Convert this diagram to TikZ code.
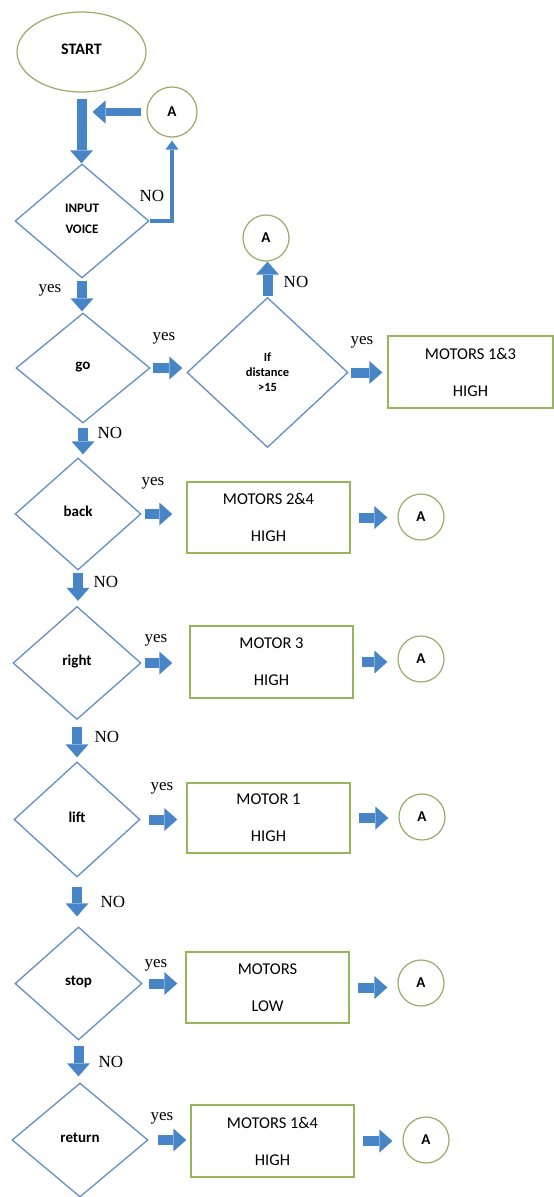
\documentclass[tikz,border=0pt]{standalone}
\usepackage{fontspec}
\setmainfont{Liberation Serif}
\newfontfamily\calibri{Carlito}
\usetikzlibrary{positioning, shapes.geometric, arrows.meta}
\definecolor{decisionColor}{RGB}{98,142,200}
\definecolor{arrowColor}{RGB}{72,133,199}
\definecolor{boxColor}{RGB}{150,182,90}
\definecolor{circleColor}{RGB}{150,172,105}
\tikzstyle{flowchart} = [x = 1pt, y = -1pt]
\tikzstyle{terminalStyle} = [ellipse, draw=circleColor, line width=1.2pt, minimum width=129pt, minimum height=80pt, inner sep=0pt, font=\calibri\bfseries\fontsize{16}{18}\selectfont]
\tikzstyle{decisionStyle} = [diamond, draw=decisionColor, line width=1.3pt, inner sep=0pt, align=center, font=\calibri\bfseries\fontsize{15}{18}\selectfont]
\tikzstyle{actionStyle} = [rectangle, draw=boxColor, line width=1.4pt, minimum width=163pt, minimum height=71pt, inner sep=0pt, align=center, font=\calibri\fontsize{16.5}{37}\selectfont]
\tikzstyle{connectorStyle} = [circle, draw=circleColor, line width=1.2pt, minimum size=46pt, inner sep=0pt, font=\calibri\bfseries\fontsize{15}{18}\selectfont]
\tikzstyle{flowArrow} = [draw=arrowColor, line width=10pt, -{Triangle[length=13pt, width=23pt, line width=0pt]}]
\tikzstyle{thinArrow} = [draw=arrowColor, line width=3.5pt, -{Triangle[length=9pt, width=13pt, line width=0pt]}]
\tikzstyle{answerText} = [inner sep=0pt, font=\fontsize{17}{18}\selectfont]
\newcommand{\lift}[1]{\raisebox{5pt}{#1}}

\begin{document}
\begin{tikzpicture}[flowchart]
  \useasboundingbox (0,0) rectangle (554,1197);

  % start, input and the return point
  \node [terminalStyle] (start) at (81.5,52) {\lift{START}};
  \node [connectorStyle, minimum size=50pt] (aTop) at (172,112) {A};
  \node [decisionStyle, minimum width=134pt, minimum height=114pt, font=\calibri\bfseries\fontsize{13}{21}\selectfont] (inputDecision) at (82,221) {\lift{INPUT}\\\lift{VOICE}};

  % decisions
  \node [decisionStyle, minimum width=134pt, minimum height=110pt] (goDecision) at (83,368) {\lift{go}};
  \node [decisionStyle, minimum width=161pt, minimum height=150pt, font=\calibri\bfseries\fontsize{12.5}{15}\selectfont] (distanceDecision) at (267.5,372.5) {If\\distance\\>15};
  \node [decisionStyle, minimum width=126pt, minimum height=112pt] (backDecision) at (78,514) {\lift{back}};
  \node [decisionStyle, minimum width=128pt, minimum height=113pt] (rightDecision) at (77,663) {\lift{right}};
  \node [decisionStyle, minimum width=126pt, minimum height=115pt] (liftDecision) at (77,819.5) {\lift{lift}};
  \node [decisionStyle, minimum width=127pt, minimum height=113pt] (stopDecision) at (78.5,983.5) {\lift{stop}};
  \node [decisionStyle, minimum width=136pt, minimum height=114pt] (returnDecision) at (80,1140) {\lift{return}};

  % actions
  \node [actionStyle, minimum width=165pt, minimum height=72pt] (motorsOneThree) at (470.5,372) {MOTORS 1\&3\\HIGH};
  \node [actionStyle] (motorsTwoFour) at (268.5,517.5) {MOTORS 2\&4\\HIGH};
  \node [actionStyle, minimum height=72pt] (motorThree) at (271.5,662) {MOTOR 3\\HIGH};
  \node [actionStyle, minimum height=70pt] (motorOne) at (268.5,818) {MOTOR 1\\HIGH};
  \node [actionStyle] (motorsLow) at (267.5,987.5) {MOTORS\\LOW};
  \node [actionStyle, minimum height=72pt] (motorsOneFour) at (272.5,1141) {MOTORS 1\&4\\HIGH};

  % connectors back to A
  \node [connectorStyle] (aDistance) at (266,238) {A};
  \node [connectorStyle] (aBack) at (421,517) {A};
  \node [connectorStyle] (aRight) at (421,659) {A};
  \node [connectorStyle] (aLift) at (422,817) {A};
  \node [connectorStyle] (aStop) at (421,983) {A};
  \node [connectorStyle] (aReturn) at (426,1140) {A};

  % answers
  \node [answerText] (noInput) at (152,196) {NO};
  \node [answerText] (yesInput) at (50,290) {yes};
  \node [answerText] (yesGo) at (164,338) {yes};
  \node [answerText] (noDistance) at (296,282) {NO};
  \node [answerText] (yesDistance) at (362,342) {yes};
  \node [answerText] (noGo) at (110,433) {NO};
  \node [answerText] (yesBack) at (153,483) {yes};
  \node [answerText] (noBack) at (106,582) {NO};
  \node [answerText] (yesRight) at (156,640) {yes};
  \node [answerText] (noRight) at (107,737) {NO};
  \node [answerText] (yesLift) at (162,788) {yes};
  \node [answerText] (noLift) at (113,902) {NO};
  \node [answerText] (yesStop) at (156,965) {yes};
  \node [answerText] (noStop) at (111,1062) {NO};
  \node [answerText] (yesReturn) at (162,1118) {yes};

  % arrows
  \draw [flowArrow, shorten <=6pt] (start.south) -- (start.south |- inputDecision.north);
  \draw [flowArrow, line width=8pt, shorten <=5pt, shorten >=11pt] (aTop.west) -- (aTop.west -| start.south);
  \draw [thinArrow, shorten >=3pt] (inputDecision.east) -| (aTop.south);
  \draw [flowArrow, shorten <=1pt] (distanceDecision.north) -- (distanceDecision.north |- aDistance.south);
  \draw [flowArrow, shorten <=2pt, shorten >=4pt] (goDecision.east) -- (goDecision.east -| distanceDecision.west);
  \draw [flowArrow, shorten <=2pt, shorten >=5pt] (distanceDecision.east) -- (distanceDecision.east -| motorsOneThree.west);
  \foreach \upper/\lower/\gapTop/\gapBottom in {inputDecision/goDecision/2/1, goDecision/backDecision/4/3, backDecision/rightDecision/2/5, rightDecision/liftDecision/7/4, liftDecision/stopDecision/9/10, stopDecision/returnDecision/5/6}
    \draw [flowArrow, shorten <=\gapTop pt, shorten >=\gapBottom pt] (\upper.south) -- (\upper.south |- \lower.north);
  \foreach \decision/\action/\target/\gapLeft/\gapRight in {backDecision/motorsTwoFour/aBack/3/14, rightDecision/motorThree/aRight/3/17, liftDecision/motorOne/aLift/8/9, stopDecision/motorsLow/aStop/6/8, returnDecision/motorsOneFour/aReturn/9/4} {
    \draw [flowArrow, shorten <=\gapLeft pt, shorten >=\gapRight pt] (\decision.east) -- (\decision.east -| \action.west);
    \draw [flowArrow, shorten <=8pt, shorten >=10pt] (\action.east) -- (\action.east -| \target.west);
  }
\end{tikzpicture}
\end{document}
